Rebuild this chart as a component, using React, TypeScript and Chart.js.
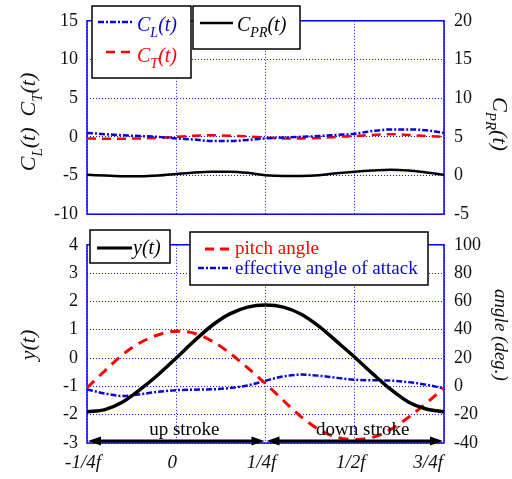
import React, { useEffect, useRef } from 'react';
import { Chart, registerables } from 'chart.js';
Chart.register(...registerables);

// ---------- data ----------
const PHASE = [-0.25, -0.2, -0.15, -0.1, -0.05, 0, 0.05, 0.1, 0.15, 0.2, 0.25, 0.3, 0.35, 0.4, 0.45, 0.5, 0.55, 0.6, 0.65, 0.7, 0.75];
const C_L = [0.5, 0.35, 0.2, 0.1, 0, -0.2, -0.35, -0.55, -0.55, -0.4, -0.2, -0.1, 0, 0.1, 0.25, 0.4, 0.75, 0.95, 0.95, 0.85, 0.5];
const C_T = [-0.2, -0.25, -0.25, -0.2, -0.15, 0, 0.15, 0.2, 0.15, 0.05, -0.1, -0.2, -0.2, -0.15, 0, 0.1, 0.25, 0.35, 0.25, 0.1, 0];
const C_PR = [0.1, 0, -0.1, -0.1, 0, 0.2, 0.4, 0.5, 0.5, 0.35, 0.05, -0.05, -0.05, 0.05, 0.3, 0.5, 0.65, 0.75, 0.65, 0.4, 0.1];
const Y_T = [-1.9, -1.82, -1.55, -1.1, -0.58, 0, 0.6, 1.15, 1.56, 1.8, 1.87, 1.8, 1.55, 1.12, 0.58, 0.03, -0.55, -1.1, -1.55, -1.8, -1.9];
const PITCH = [-1, 11, 22.5, 31, 36.5, 39, 37.5, 32, 23.5, 13, 2, -10, -21.5, -30.5, -36, -37.5, -36, -30.5, -22, -12, -1];
const EFF_AOA = [-2.2, -5, -6.8, -5.5, -3.8, -2.7, -2.3, -2.1, -1.2, 0.6, 4, 7, 8.3, 7.5, 6, 4.7, 4.3, 4.1, 3, 1.2, -1.5];
const X_TICK_LABELS = ['-1/4f', '0', '1/4f', '1/2f', '3/4f'];
const STROKES = [
  { label: 'up stroke', from: -0.25, to: 0.25 },
  { label: 'down stroke', from: 0.25, to: 0.75 },
];

// ---------- styles ----------
const SERIF = '"Liberation Serif", "Times New Roman", serif';
const BLUE = '#0505dc';
const RED = '#ff0000';
const GRID = '#1010ff';
const FRAME = '#0000ff';
const DASHDOT = [6, 2, 2, 2];
const BOTTOM_TOP = 224;

type Part = { t: string; sub?: boolean };
const CL_TXT: Part[] = [{ t: 'C' }, { t: 'L', sub: true }, { t: '(t)' }];
const CT_TXT: Part[] = [{ t: 'C' }, { t: 'T', sub: true }, { t: '(t)' }];
const CPR_TXT: Part[] = [{ t: 'C' }, { t: 'PR', sub: true }, { t: '(t)' }];

function fontOf(size: number, italic: boolean) {
  return `${italic ? 'italic ' : ''}${size}px ${SERIF}`;
}
function richWidth(ctx: CanvasRenderingContext2D, parts: Part[], size: number, italic: boolean) {
  let w = 0;
  for (const p of parts) {
    ctx.font = fontOf(p.sub ? Math.round(size * 0.68) : size, italic);
    w += ctx.measureText(p.t).width;
  }
  return w;
}
function drawRich(ctx: CanvasRenderingContext2D, parts: Part[], x: number, y: number, size: number, italic: boolean, color: string) {
  let cx = x;
  ctx.fillStyle = color;
  ctx.textAlign = 'left';
  ctx.textBaseline = 'alphabetic';
  for (const p of parts) {
    ctx.font = fontOf(p.sub ? Math.round(size * 0.68) : size, italic);
    ctx.fillText(p.t, cx, p.sub ? y + size * 0.32 : y);
    cx += ctx.measureText(p.t).width;
  }
}

type Row = { s: [number, number, number]; color: string; dash: number[]; width: number; tx: number; ty: number; parts: Part[]; italic: boolean; size: number; tcolor: string };
type Legend = { box: [number, number, number, number]; rows: Row[] };
type Title = { parts: Part[]; cx: number; cy: number; rot: number; size: number; italic: boolean };

const TOP_LEGENDS: Legend[] = [
  {
    box: [92, 6, 99, 72],
    rows: [
      { s: [98, 132, 22], color: BLUE, dash: DASHDOT, width: 2.5, tx: 137, ty: 31, parts: CL_TXT, italic: true, size: 20, tcolor: BLUE },
      { s: [106, 132, 52], color: RED, dash: [9, 6], width: 2.5, tx: 137, ty: 62, parts: CT_TXT, italic: true, size: 20, tcolor: RED },
    ],
  },
  {
    box: [193, 6, 107, 43],
    rows: [
      { s: [200, 233, 23], color: '#000', dash: [], width: 2.5, tx: 237, ty: 31, parts: CPR_TXT, italic: true, size: 20, tcolor: '#000' },
    ],
  },
];
const BOTTOM_LEGENDS: Legend[] = [
  {
    box: [90, 230, 80, 33],
    rows: [
      { s: [97, 132, 248], color: '#000', dash: [], width: 3, tx: 133, ty: 254, parts: [{ t: 'y(t)' }], italic: true, size: 20, tcolor: '#000' },
    ],
  },
  {
    box: [190, 232, 238, 53],
    rows: [
      { s: [205, 231, 249], color: RED, dash: [9, 6], width: 3, tx: 235, ty: 254, parts: [{ t: 'pitch angle' }], italic: false, size: 19, tcolor: RED },
      { s: [198, 231, 268], color: BLUE, dash: DASHDOT, width: 2.5, tx: 235, ty: 274, parts: [{ t: 'effective angle of attack' }], italic: false, size: 19, tcolor: BLUE },
    ],
  },
];
const TOP_TITLES: Title[] = [
  { parts: [...CL_TXT, { t: '  ' }, ...CT_TXT], cx: 28, cy: 122, rot: -Math.PI / 2, size: 22, italic: true },
  { parts: CPR_TXT, cx: 500, cy: 124, rot: Math.PI / 2, size: 22, italic: true },
];
const BOTTOM_TITLES: Title[] = [
  { parts: [{ t: 'y(t)' }], cx: 28, cy: 345, rot: -Math.PI / 2, size: 22, italic: true },
  { parts: [{ t: 'angle (deg.)' }], cx: 501, cy: 335, rot: Math.PI / 2, size: 19, italic: true },
];

function makeDecor(legends: Legend[], titles: Title[], offY: number, strokes: boolean) {
  return {
    id: 'decor' + offY,
    beforeDatasetsDraw(chart: any) {
      const { ctx, chartArea: a } = chart;
      ctx.save();
      ctx.strokeStyle = FRAME;
      ctx.lineWidth = 1.5;
      ctx.setLineDash([]);
      ctx.strokeRect(a.left, a.top, a.right - a.left, a.bottom - a.top);
      ctx.restore();
    },
    afterDatasetsDraw(chart: any) {
      const ctx: CanvasRenderingContext2D = chart.ctx;
      const a = chart.chartArea;
      ctx.save();
      if (strokes) {
        const xs = chart.scales.x;
        const y = a.bottom - 2;
        ctx.fillStyle = '#000';
        ctx.strokeStyle = '#000';
        ctx.lineWidth = 3;
        ctx.setLineDash([]);
        for (const s of STROKES) {
          const x1 = xs.getPixelForValue(s.from) + 1;
          const x2 = xs.getPixelForValue(s.to) - 1;
          const hl = 13, hw = 4.5;
          ctx.beginPath();
          ctx.moveTo(x1 + hl - 2, y);
          ctx.lineTo(x2 - hl + 2, y);
          ctx.stroke();
          ctx.beginPath();
          ctx.moveTo(x1, y);
          ctx.lineTo(x1 + hl, y - hw);
          ctx.lineTo(x1 + hl, y + hw);
          ctx.closePath();
          ctx.fill();
          ctx.beginPath();
          ctx.moveTo(x2, y);
          ctx.lineTo(x2 - hl, y - hw);
          ctx.lineTo(x2 - hl, y + hw);
          ctx.closePath();
          ctx.fill();
          ctx.font = fontOf(19, false);
          ctx.textAlign = 'center';
          ctx.textBaseline = 'alphabetic';
          ctx.fillText(s.label, (x1 + x2) / 2 + 8, y - 6);
        }
      }
      for (const lg of legends) {
        const [bx, by, bw, bh] = lg.box;
        ctx.setLineDash([]);
        ctx.fillStyle = '#fff';
        ctx.fillRect(bx, by - offY, bw, bh);
        ctx.strokeStyle = '#000';
        ctx.lineWidth = 1.5;
        ctx.strokeRect(bx, by - offY, bw, bh);
        for (const r of lg.rows) {
          ctx.beginPath();
          ctx.strokeStyle = r.color;
          ctx.lineWidth = r.width;
          ctx.setLineDash(r.dash);
          ctx.moveTo(r.s[0], r.s[2] - offY);
          ctx.lineTo(r.s[1], r.s[2] - offY);
          ctx.stroke();
          ctx.setLineDash([]);
          drawRich(ctx, r.parts, r.tx, r.ty - offY, r.size, r.italic, r.tcolor);
        }
      }
      for (const t of titles) {
        ctx.save();
        ctx.translate(t.cx, t.cy - offY);
        ctx.rotate(t.rot);
        const w = richWidth(ctx, t.parts, t.size, t.italic);
        drawRich(ctx, t.parts, -w / 2, t.size * 0.33, t.size, t.italic, '#111');
        ctx.restore();
      }
      ctx.restore();
    },
  };
}

const pts = (arr: number[]) => PHASE.map((t, i) => ({ x: t, y: arr[i] }));

function yAxis(pos: 'left' | 'right', min: number, max: number, step: number, width: number, grid: boolean) {
  return {
    type: 'linear' as const,
    position: pos,
    min,
    max,
    ticks: { stepSize: step, padding: pos === 'left' ? 9 : 10, color: '#111', font: { family: SERIF, size: 18 } },
    grid: grid ? { color: GRID, lineWidth: 1, drawTicks: false } : { display: false, drawTicks: false },
    border: { display: false, dash: [1, 2] },
    afterFit: (s: any) => {
      s.width = width;
    },
  };
}

export default function App() {
  const topRef = useRef<HTMLCanvasElement>(null);
  const botRef = useRef<HTMLCanvasElement>(null);

  useEffect(() => {
    const top = new Chart(topRef.current!, {
      type: 'line',
      data: {
        datasets: [
          { data: pts(C_L), yAxisID: 'yL', borderColor: BLUE, borderWidth: 2.5, borderDash: DASHDOT },
          { data: pts(C_T), yAxisID: 'yL', borderColor: RED, borderWidth: 2.5, borderDash: [9, 6] },
          { data: pts(C_PR), yAxisID: 'yR', borderColor: '#000', borderWidth: 2.5 },
        ],
      },
      options: {
        animation: false,
        responsive: false,
        maintainAspectRatio: false,
        layout: { padding: { top: 18, left: 0, right: 0, bottom: 0 } },
        plugins: { legend: { display: false }, tooltip: { enabled: false } },
        elements: { point: { radius: 0 }, line: { cubicInterpolationMode: 'monotone', fill: false } },
        scales: {
          x: {
            type: 'linear',
            min: -0.25,
            max: 0.75,
            ticks: { display: false, stepSize: 0.25 },
            grid: { color: GRID, lineWidth: 1, drawTicks: false },
            border: { display: false, dash: [1, 2] },
            afterFit: (s: any) => {
              s.height = 15;
            },
          },
          yL: yAxis('left', -10, 15, 5, 87, true),
          yR: yAxis('right', -5, 20, 5, 68, false),
        },
      } as any,
      plugins: [makeDecor(TOP_LEGENDS, TOP_TITLES, 0, false)],
    });

    const bot = new Chart(botRef.current!, {
      type: 'line',
      data: {
        datasets: [
          { data: pts(Y_T), yAxisID: 'yL', borderColor: '#000', borderWidth: 3.5 },
          { data: pts(PITCH), yAxisID: 'yR', borderColor: RED, borderWidth: 3, borderDash: [10, 7] },
          { data: pts(EFF_AOA), yAxisID: 'yR', borderColor: BLUE, borderWidth: 2.5, borderDash: DASHDOT },
        ],
      },
      options: {
        animation: false,
        responsive: false,
        maintainAspectRatio: false,
        layout: { padding: { top: 19, left: 0, right: 0, bottom: 0 } },
        plugins: { legend: { display: false }, tooltip: { enabled: false } },
        elements: { point: { radius: 0 }, line: { cubicInterpolationMode: 'monotone', fill: false } },
        scales: {
          x: {
            type: 'linear',
            min: -0.25,
            max: 0.75,
            ticks: {
              stepSize: 0.25,
              padding: 9,
              labelOffset: -4,
              autoSkip: false,
              maxRotation: 0,
              color: '#111',
              font: { family: SERIF, size: 19, style: 'italic' },
              callback: (_v: any, i: number) => (i === X_TICK_LABELS.length - 1 ? X_TICK_LABELS[i] + '     ' : X_TICK_LABELS[i]),
            },
            grid: { color: GRID, lineWidth: 1, drawTicks: false },
            border: { display: false, dash: [1, 2] },
            afterFit: (s: any) => {
              s.height = 36;
            },
          },
          yL: yAxis('left', -3, 4, 1, 87, true),
          yR: yAxis('right', -40, 100, 20, 68, false),
        },
      } as any,
      plugins: [makeDecor(BOTTOM_LEGENDS, BOTTOM_TITLES, BOTTOM_TOP, true)],
    });

    return () => {
      top.destroy();
      bot.destroy();
    };
  }, []);

  return (
    <div style={{ position: 'fixed', left: 0, top: 0, width: 512, height: 479, background: '#fff' }}>
      <canvas ref={topRef} width={512} height={235} style={{ position: 'absolute', left: 0, top: 0, width: 512, height: 235 }} />
      <canvas ref={botRef} width={512} height={255} style={{ position: 'absolute', left: 0, top: BOTTOM_TOP, width: 512, height: 255 }} />
    </div>
  );
}
